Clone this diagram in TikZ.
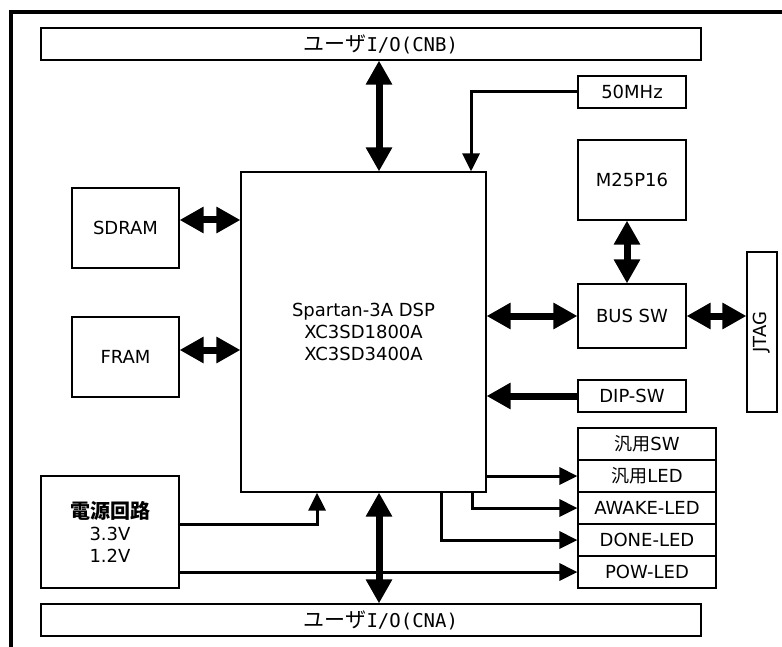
\documentclass[tikz,border=0pt]{standalone}
\usepackage{fontspec}
\setmainfont{DejaVu Sans}
\setmonofont{DejaVu Sans Mono}
\newfontfamily\jp{Noto Sans CJK JP}
\usetikzlibrary{arrows.meta}
\begin{document}
\begin{tikzpicture}[x=1pt,y=-1pt,
  box/.style={draw=black,line width=1.2pt,inner sep=0pt,align=center,
    font=\fontsize{18}{22}\selectfont},
  conlabel/.style={inner sep=0pt,font=\fontsize{18}{22}\selectfont},
  thick arrow/.style={line width=7pt,-{Triangle[length=24pt,width=25pt]}},
  dthick arrow/.style={line width=7pt,{Triangle[length=24pt,width=25pt]}-{Triangle[length=24pt,width=25pt]}},
  thin arrow/.style={line width=3pt,-{Triangle[length=18pt,width=17pt]}}]
\useasboundingbox (0,0) rectangle (782,647);
\fill[white] (0,0) rectangle (782,647);
% frame
\draw[line width=3.5pt] (11,650) -- (11,12) -- (785,12);
% boxes
\node[box,minimum width=660pt,minimum height=32pt] (cnb) at (371,44) {};
\node[conlabel] (cnbt) at (381,44) {{\jp\fontsize{21}{22}\selectfont ユーザ}{\ttfamily\fontsize{19}{22}\selectfont I/O(CNB)}};
\node[box,minimum width=660pt,minimum height=32pt] (cna) at (371,620) {};
\node[conlabel] (cnat) at (381,620) {{\jp\fontsize{21}{22}\selectfont ユーザ}{\ttfamily\fontsize{19}{22}\selectfont I/O(CNA)}};
\node[box,minimum width=245pt,minimum height=320pt] (fpga) at (363.5,332) {Spartan-3A DSP\\XC3SD1800A\\XC3SD3400A};
\node[box,minimum width=108pt,minimum height=32pt] (clk) at (632,92) {50MHz};
\node[box,minimum width=108pt,minimum height=80pt] (m25) at (632,180) {M25P16};
\node[box,minimum width=108pt,minimum height=64pt] (bus) at (632,316) {BUS SW};
\node[box,minimum width=108pt,minimum height=32pt] (dip) at (632,396) {DIP-SW};
\node[box,minimum width=30pt,minimum height=160pt] (jtag) at (762,332) {};
\node[conlabel,rotate=90] (jtagt) at (762,332) {JTAG};
\node[box,minimum width=107pt,minimum height=80pt] (sdram) at (125.5,228) {SDRAM};
\node[box,minimum width=107pt,minimum height=80pt] (fram) at (125.5,357) {FRAM};
\node[box,minimum width=138pt,minimum height=112pt] (pwr) at (110,532) {{\jp\bfseries\fontsize{20}{22}\selectfont 電源回路}\\3.3V\\1.2V};
\node[box,minimum width=138pt,minimum height=32pt] (sw) at (647,444) {{\jp 汎用}SW};
\node[box,minimum width=138pt,minimum height=32pt] (led) at (647,476) {{\jp 汎用}LED};
\node[box,minimum width=138pt,minimum height=32pt] (awake) at (647,508) {AWAKE-LED};
\node[box,minimum width=138pt,minimum height=32pt] (done) at (647,540) {DONE-LED};
\node[box,minimum width=138pt,minimum height=32pt] (pow) at (647,572) {POW-LED};
% helper coordinates
\coordinate (xa) at (379,0);
\coordinate (xc) at (471,0);
\coordinate (xaw) at (472,0);
\coordinate (xdn) at (441,0);
\coordinate (xp) at (317,0);
% connectors
\draw[dthick arrow] (xa |- cnb.south) -- (xa |- fpga.north);
\draw[dthick arrow] (xa |- fpga.south) -- (xa |- cna.north);
\draw[thin arrow] (clk.west) -| (xc |- fpga.north);
\draw[dthick arrow] ([xshift=-5pt]m25.south) -- ([xshift=-5pt]bus.north);
\draw[dthick arrow] (bus.west -| fpga.east) -- (bus.west);
\draw[dthick arrow] (bus.east) -- (bus.east -| jtag.west);
\draw[thick arrow] (dip.west) -- (dip.west -| fpga.east);
\draw[dthick arrow] ([yshift=8pt]sdram.east) -- ([yshift=8pt]sdram.east -| fpga.west);
\draw[dthick arrow] ([yshift=7pt]fram.east) -- ([yshift=7pt]fram.east -| fpga.west);
\draw[thin arrow] (led.west -| fpga.east) -- (led.west);
\draw[thin arrow] (xaw |- fpga.south) |- (awake.west);
\draw[thin arrow] (xdn |- fpga.south) |- (done.west);
\draw[thin arrow] (pow.west -| pwr.east) -- (pow.west);
\draw[thin arrow] ([yshift=8pt]pwr.east) -| (xp |- fpga.south);
\end{tikzpicture}
\end{document}
